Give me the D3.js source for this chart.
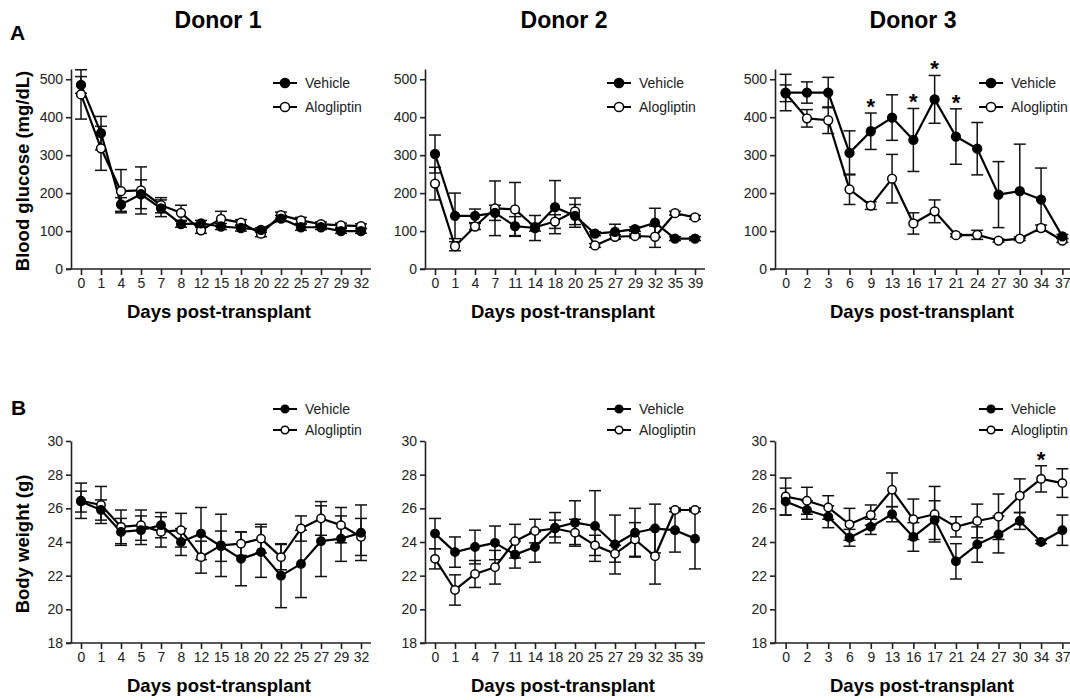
<!DOCTYPE html>
<html>
<head>
<meta charset="utf-8">
<script src="https://cdn.jsdelivr.net/npm/d3@7"></script>
<style>
  html, body { margin: 0; padding: 0; background: #fff; }
  svg text { font-family: "Liberation Sans", Arial, Helvetica, sans-serif; }
</style>
</head>
<body>
<svg id="chart" width="1070" height="700"></svg>
<script>
// ---------- data ----------
const donorTitles = ["Donor 1", "Donor 2", "Donor 3"];
const seriesNames = ["Vehicle", "Alogliptin"];

const daysD1 = ["0","1","4","5","7","8","12","15","18","20","22","25","27","29","32"];
const daysD2 = ["0","1","4","7","11","14","18","20","25","27","29","32","35","39"];
const daysD3 = ["0","2","3","6","9","13","16","17","21","24","27","30","34","37"];

// Blood glucose (mg/dL)
const glucoseVehD1    = [485, 358, 170, 197, 160, 118, 120, 112, 108, 103, 133, 110, 110, 100, 100];
const glucoseVehErrD1 = [22, 44, 18, 38, 22, 8, 8, 8, 8, 6, 8, 8, 6, 6, 6];
const glucoseAloD1    = [460, 318, 205, 207, 168, 148, 102, 132, 122, 93, 142, 128, 118, 115, 113];
const glucoseAloErrD1 = [65, 58, 57, 62, 20, 20, 8, 20, 8, 8, 8, 8, 6, 6, 6];

const glucoseVehD2    = [303, 140, 140, 148, 113, 108, 163, 140, 93, 98, 105, 122, 80, 80];
const glucoseVehErrD2 = [50, 60, 18, 20, 25, 33, 70, 30, 5, 20, 6, 38, 5, 5];
const glucoseAloD2    = [225, 60, 112, 160, 157, 110, 125, 152, 62, 85, 87, 85, 147, 136];
const glucoseAloErrD2 = [43, 12, 8, 72, 71, 10, 18, 35, 5, 5, 5, 28, 5, 5];

const glucoseVehD3    = [465, 465, 465, 306, 363, 399, 340, 447, 349, 317, 196, 205, 183, 86];
const glucoseVehErrD3 = [48, 28, 40, 58, 48, 60, 83, 63, 73, 69, 87, 124, 83, 5];
const glucoseAloD3    = [463, 397, 392, 210, 167, 238, 120, 152, 89, 90, 75, 80, 108, 75];
const glucoseAloErrD3 = [22, 23, 35, 40, 10, 64, 28, 30, 4, 12, 4, 5, 8, 5];
const glucoseStarsD3  = ["9", "16", "17", "21"];   // significance marks above Vehicle

// Body weight (g)
const weightVehD1    = [26.4, 25.9, 24.6, 24.7, 25.0, 24.0, 24.5, 23.75, 23.0, 23.4, 22.0, 22.7, 24.05, 24.2, 24.55];
const weightVehErrD1 = [0.62, 0.6, 0.8, 0.85, 0.75, 0.8, 1.55, 0.9, 1.6, 1.5, 1.9, 2.0, 2.1, 1.35, 1.65];
const weightAloD1    = [26.45, 26.2, 24.9, 25.0, 24.6, 24.7, 23.1, 23.8, 23.9, 24.2, 23.1, 24.8, 25.4, 25.0, 24.3];
const weightAloErrD1 = [1.05, 1.1, 1.0, 0.9, 0.9, 1.0, 0.95, 1.85, 0.7, 0.85, 0.75, 0.75, 1.0, 1.05, 1.1];

const weightVehD2    = [24.5, 23.4, 23.7, 23.95, 23.25, 23.7, 24.85, 25.15, 24.95, 23.85, 24.55, 24.8, 24.7, 24.2];
const weightVehErrD2 = [0.9, 0.9, 1.0, 1.0, 0.8, 0.9, 0.9, 1.3, 2.1, 1.75, 1.45, 1.45, 1.3, 1.8];
const weightAloD2    = [23.0, 21.15, 22.1, 22.5, 24.05, 24.65, 24.8, 24.55, 23.8, 23.3, 24.15, 23.15, 25.9, 25.9];
const weightAloErrD2 = [0.6, 0.9, 0.8, 1.0, 1.0, 0.7, 0.5, 0.8, 0.6, 0.5, 1.0, 1.65, 0.1, 0.1];

const weightVehD3    = [26.4, 25.9, 25.5, 24.25, 24.9, 25.65, 24.3, 25.3, 22.85, 23.85, 24.45, 25.25, 24.0, 24.7];
const weightVehErrD3 = [0.8, 0.55, 0.65, 0.5, 0.45, 0.45, 0.85, 1.15, 1.05, 1.05, 1.1, 0.5, 0.1, 0.9];
const weightAloD3    = [26.7, 26.45, 26.05, 25.05, 25.6, 27.1, 25.35, 25.65, 24.9, 25.25, 25.5, 26.75, 27.75, 27.5];
const weightAloErrD3 = [1.1, 0.8, 0.7, 0.95, 0.6, 1.0, 1.2, 1.65, 0.6, 1.0, 1.35, 1.0, 0.78, 0.85];
const weightStarsD3  = ["34"];   // significance mark above Alogliptin

const glucoseTicks = [0, 100, 200, 300, 400, 500];
const weightTicks  = [18, 20, 22, 24, 26, 28, 30];

// ---------- drawing ----------
const svg = d3.select("#chart");
const FONT = "'Liberation Sans', Arial, Helvetica, sans-serif";

const columns = [
  { x0: 71,  x1: 371,  days: daysD1 },
  { x0: 425, x1: 705,  days: daysD2 },
  { x0: 775, x1: 1073, days: daysD3 }
];
const rows = [
  { top: 69,  bottom: 269, domain: [0, 527], ticks: glucoseTicks, title: "Blood glucose (mg/dL)",
    legendY: [83, 107], r: 4.4, legendR: 4.6 },
  { top: 441, bottom: 643, domain: [18, 30], ticks: weightTicks, title: "Body weight (g)",
    legendY: [409, 430], r: 4.2, legendR: 3.8 }
];

const panels = [
  { row: 0, col: 0, veh: glucoseVehD1, vehErr: glucoseVehErrD1, alo: glucoseAloD1, aloErr: glucoseAloErrD1, stars: [], starSeries: "veh" },
  { row: 0, col: 1, veh: glucoseVehD2, vehErr: glucoseVehErrD2, alo: glucoseAloD2, aloErr: glucoseAloErrD2, stars: [], starSeries: "veh" },
  { row: 0, col: 2, veh: glucoseVehD3, vehErr: glucoseVehErrD3, alo: glucoseAloD3, aloErr: glucoseAloErrD3, stars: glucoseStarsD3, starSeries: "veh" },
  { row: 1, col: 0, veh: weightVehD1, vehErr: weightVehErrD1, alo: weightAloD1, aloErr: weightAloErrD1, stars: [], starSeries: "alo" },
  { row: 1, col: 1, veh: weightVehD2, vehErr: weightVehErrD2, alo: weightAloD2, aloErr: weightAloErrD2, stars: [], starSeries: "alo" },
  { row: 1, col: 2, veh: weightVehD3, vehErr: weightVehErrD3, alo: weightAloD3, aloErr: weightAloErrD3, stars: weightStarsD3, starSeries: "alo" }
];

// Panel letters
svg.append("text").attr("x", 10).attr("y", 40).attr("font-size", 21).attr("font-weight", "bold")
  .attr("fill", "#000").text("A");
svg.append("text").attr("x", 11).attr("y", 415).attr("font-size", 21).attr("font-weight", "bold")
  .attr("fill", "#000").text("B");

// Donor titles
const titleX = [218, 564, 913];
donorTitles.forEach((t, i) => {
  svg.append("text").attr("x", titleX[i]).attr("y", 28).attr("text-anchor", "middle")
    .attr("font-size", 23).attr("font-weight", "bold").attr("fill", "#000").text(t);
});

panels.forEach(p => {
  const col = columns[p.col], row = rows[p.row];
  const x = d3.scalePoint().domain(col.days).range([col.x0, col.x1]).padding(0.5);
  const y = d3.scaleLinear().domain(row.domain).range([row.bottom, row.top]);
  const g = svg.append("g");

  // y axis
  const yAxis = d3.axisLeft(y).tickValues(row.ticks).tickSize(5).tickPadding(3).tickSizeOuter(0);
  const ya = g.append("g").attr("transform", `translate(${col.x0},0)`).call(yAxis);
  ya.select(".domain").attr("stroke", "#222").attr("stroke-width", 1.6);
  ya.selectAll(".tick line").attr("stroke", "#222").attr("stroke-width", 1.6);
  ya.selectAll(".tick text").attr("font-size", 14).attr("fill", "#222").attr("font-family", FONT);

  // x axis
  const xAxis = d3.axisBottom(x).tickSize(6).tickPadding(3).tickSizeOuter(0);
  const xa = g.append("g").attr("transform", `translate(0,${row.bottom})`).call(xAxis);
  xa.select(".domain").attr("stroke", "#222").attr("stroke-width", 1.6)
    .attr("d", `M${col.x0 - 5},0H${col.x1}`);
  xa.selectAll(".tick line").attr("stroke", "#222").attr("stroke-width", 1.6);
  xa.selectAll(".tick text").attr("font-size", 14).attr("fill", "#222").attr("font-family", FONT);

  // x axis title
  g.append("text").attr("x", (col.x0 + col.x1) / 2 - 2).attr("y", row.bottom + 49)
    .attr("text-anchor", "middle").attr("font-size", 18.5).attr("font-weight", "bold")
    .attr("fill", "#000").text("Days post-transplant");

  // y axis title (first column only)
  if (p.col === 0) {
    const cy = (row.top + row.bottom) / 2 + 2;
    g.append("text").attr("transform", `translate(29,${cy}) rotate(-90)`)
      .attr("text-anchor", "middle").attr("font-size", 18.5).attr("font-weight", "bold")
      .attr("fill", "#000").text(row.title);
  }

  const series = [
    { key: "alo", vals: p.alo, errs: p.aloErr, fill: "#fff" },
    { key: "veh", vals: p.veh, errs: p.vehErr, fill: "#000" }
  ];

  // error bars
  series.forEach(s => {
    const eg = g.append("g");
    col.days.forEach((d, i) => {
      const cx = x(d), lo = y(s.vals[i] - s.errs[i]), hi = y(s.vals[i] + s.errs[i]);
      eg.append("line").attr("x1", cx).attr("x2", cx).attr("y1", lo).attr("y2", hi)
        .attr("stroke", "#111").attr("stroke-width", 1.5);
      [lo, hi].forEach(yy => eg.append("line").attr("x1", cx - 6).attr("x2", cx + 6)
        .attr("y1", yy).attr("y2", yy).attr("stroke", "#111").attr("stroke-width", 1.5));
    });
  });

  // lines and markers
  series.forEach(s => {
    const line = d3.line().x((v, i) => x(col.days[i])).y(v => y(v));
    g.append("path").datum(s.vals).attr("d", line).attr("fill", "none")
      .attr("stroke", "#000").attr("stroke-width", 2.2).attr("stroke-linejoin", "round");
  });
  series.forEach(s => {
    g.append("g").selectAll("circle").data(s.vals).join("circle")
      .attr("cx", (v, i) => x(col.days[i])).attr("cy", v => y(v)).attr("r", row.r)
      .attr("fill", s.fill).attr("stroke", "#000").attr("stroke-width", 1.5);
  });

  // significance stars
  const starSrc = p.starSeries === "veh" ? { v: p.veh, e: p.vehErr } : { v: p.alo, e: p.aloErr };
  p.stars.forEach(d => {
    const i = col.days.indexOf(d);
    const top = y(starSrc.v[i] + starSrc.e[i]);
    g.append("text").attr("x", x(d)).attr("y", top + 1).attr("text-anchor", "middle")
      .attr("font-size", 22).attr("font-weight", "bold").attr("fill", "#000").text("*");
  });

  // legend
  const lx0 = col.x1 - 98 + (p.col === 2 ? 4 : 0);
  seriesNames.forEach((name, k) => {
    const ly = row.legendY[k];
    g.append("line").attr("x1", lx0).attr("x2", lx0 + 24).attr("y1", ly).attr("y2", ly)
      .attr("stroke", "#000").attr("stroke-width", 2);
    g.append("circle").attr("cx", lx0 + 12).attr("cy", ly).attr("r", row.legendR)
      .attr("fill", k === 0 ? "#000" : "#fff").attr("stroke", "#000").attr("stroke-width", 1.5);
    g.append("text").attr("x", lx0 + 32).attr("y", ly).attr("dy", "0.35em")
      .attr("font-size", 14).attr("fill", "#222").text(name);
  });
});
</script>
</body>
</html>
